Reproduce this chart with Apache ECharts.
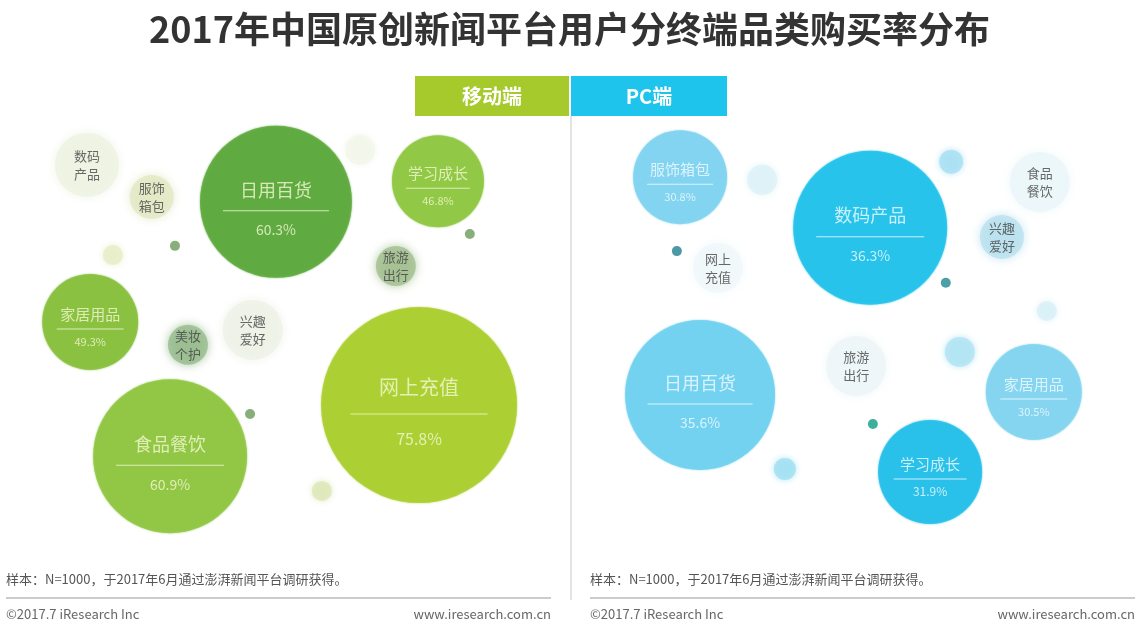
<!DOCTYPE html>
<html>
<head>
<meta charset="utf-8">
<script src="https://cdn.jsdelivr.net/npm/echarts@6/dist/echarts.min.js"></script>
<style>
html, body { margin: 0; padding: 0; background: #fff; }
#main { width: 1139px; height: 628px; }
</style>
</head>
<body>
<div id="main"></div>
<script>
// 数据：购买率（%），null 表示原图只给了名称
const mobileNames = ['网上充值', '食品餐饮', '日用百货', '家居用品', '学习成长', '数码产品', '服饰箱包', '兴趣爱好', '旅游出行', '美妆个护'];
const mobileRates = [75.8, 60.9, 60.3, 49.3, 46.8, null, null, null, null, null];
const pcNames = ['数码产品', '日用百货', '学习成长', '服饰箱包', '家居用品', '食品餐饮', '兴趣爱好', '旅游出行', '网上充值'];
const pcRates = [36.3, 35.6, 31.9, 30.8, 30.5, null, null, null, null];

// 布局：[x, y, 半径]，x/y 为 0-100 的坐标
const mobileLayout = [
    [73.9, 35.2, 98], [27.8, 23.6, 77], [47.4, 81.4, 76], [13.0, 54.1, 48], [77.4, 86.1, 46],
    [12.4, 89.8, 32], [24.4, 82.5, 22], [43.1, 52.3, 30], [69.6, 66.8, 20], [31.1, 48.9, 20]
];
const mobileColors = ['#a9cd2a', '#8dc43e', '#5aa83a', '#86be3a', '#8cc63f',
    '#eef2e2', '#e2e8c4', '#eef1e6', '#a2bf90', '#97bc8d'];
const pcLayout = [
    [51.7, 75.5, 77], [20.2, 37.5, 75], [62.8, 20.0, 52], [16.5, 87.0, 47], [82.0, 38.2, 48],
    [83.1, 85.9, 30], [76.1, 73.4, 22], [49.1, 44.1, 30], [23.5, 66.4, 25]
];
const pcColors = ['#1ec0ea', '#6dd0ef', '#21bde9', '#7dd2ef', '#7fd3ef',
    '#ebf6fa', '#b9e1ef', '#ecf5f8', '#f0f7fa'];

// 装饰小圆点 [x, y, 半径, 颜色]
const mobileDots = [
    [17.2, 69.3, 10, '#e6edc8'], [28.7, 71.4, 5, '#6a9a5a'], [83.3, 74.1, 5, '#6a9a5a'],
    [42.6, 33.2, 5, '#6a9a5a'], [55.9, 15.7, 10, '#dde7b8'], [63.0, 93.2, 15, '#f3f6ea']
];
const pcDots = [
    [31.7, 86.4, 15, '#dcf1f8'], [15.9, 70.2, 5, '#1f7f8f'], [66.7, 90.5, 12, '#a7e0f3'],
    [65.7, 63.0, 5, '#1f8790'], [84.4, 56.6, 10, '#d8f0f8'], [68.3, 47.3, 15, '#b0e4f4'],
    [52.2, 30.9, 5, '#0e9a84'], [35.9, 20.7, 11, '#a0e0f3']
];

const FONT = '"Noto Sans CJK SC", "Noto Sans", sans-serif';

function buildItems(names, rates, layout, colors, textColor) {
    return names.map(function (name, i) {
        var x = layout[i][0], y = layout[i][1], r = layout[i][2];
        var rate = rates[i];
        var label;
        if (rate != null) {
            var g = Math.max(14, r * 0.27);
            label = {
                show: true,
                position: 'inside',
                offset: [0, r < 60 ? 5 : 7],
                formatter: '{n|' + name + '}\n{l|}\n{v|' + rate + '%}',
                rich: {
                    n: { fontSize: Math.round(10 + r * 0.1), color: textColor, lineHeight: 2 * g, fontFamily: FONT },
                    l: { width: Math.round(r * 1.4), height: 1, lineHeight: 1, backgroundColor: textColor },
                    v: { fontSize: Math.round(7 + r * 0.09), color: textColor, lineHeight: 2 * g - 4, fontFamily: FONT }
                }
            };
        } else {
            label = {
                show: true,
                position: 'inside',
                formatter: name.slice(0, 2) + '\n' + name.slice(2),
                fontSize: 13,
                lineHeight: 18,
                color: '#444',
                fontFamily: FONT
            };
        }
        return {
            name: name,
            value: [x, y, rate],
            symbolSize: r * 2,
            itemStyle: { color: colors[i], shadowBlur: rate != null ? 2 : 10, shadowColor: colors[i] },
            label: label
        };
    });
}

function buildDots(dots) {
    return dots.map(function (d) {
        return {
            value: [d[0], d[1]],
            symbolSize: d[2] * 2,
            itemStyle: { color: d[3], shadowBlur: d[2] > 6 ? 6 : 0, shadowColor: d[3] }
        };
    });
}

var chart = echarts.init(document.getElementById('main'));
chart.setOption({
    animation: false,
    backgroundColor: '#fff',
    title: {
        text: '2017年中国原创新闻平台用户分终端品类购买率分布',
        left: 'center',
        top: 6,
        textStyle: { fontSize: 36, fontWeight: 'bold', color: '#333', fontFamily: FONT }
    },
    grid: [
        { left: 20, top: 120, width: 540, height: 440 },
        { left: 591, top: 120, width: 540, height: 440 }
    ],
    xAxis: [
        { gridIndex: 0, type: 'value', min: 0, max: 100, show: false },
        { gridIndex: 1, type: 'value', min: 0, max: 100, show: false }
    ],
    yAxis: [
        { gridIndex: 0, type: 'value', min: 0, max: 100, show: false },
        { gridIndex: 1, type: 'value', min: 0, max: 100, show: false }
    ],
    series: [
        { type: 'scatter', xAxisIndex: 0, yAxisIndex: 0, silent: true, data: buildDots(mobileDots) },
        { type: 'scatter', xAxisIndex: 1, yAxisIndex: 1, silent: true, data: buildDots(pcDots) },
        { type: 'scatter', xAxisIndex: 0, yAxisIndex: 0, data: buildItems(mobileNames, mobileRates, mobileLayout, mobileColors, '#f2f8d2') },
        { type: 'scatter', xAxisIndex: 1, yAxisIndex: 1, data: buildItems(pcNames, pcRates, pcLayout, pcColors, '#f2fbff') }
    ],
    graphic: [
        { type: 'rect', shape: { x: 415, y: 76, width: 154, height: 40 }, style: { fill: '#a6c92c' } },
        { type: 'rect', shape: { x: 571, y: 76, width: 156, height: 40 }, style: { fill: '#1fc4ec' } },
        { type: 'text', x: 492, y: 96, style: { text: '移动端', fill: '#fff', font: 'bold 20px ' + FONT, align: 'center', verticalAlign: 'middle' } },
        { type: 'text', x: 649, y: 96, style: { text: 'PC端', fill: '#fff', font: 'bold 20px ' + FONT, align: 'center', verticalAlign: 'middle' } },
        { type: 'line', shape: { x1: 571, y1: 116, x2: 571, y2: 600 }, style: { stroke: '#c8c8c8', lineWidth: 1 } },
        { type: 'text', x: 6, y: 579, style: { text: '样本：N=1000，于2017年6月通过澎湃新闻平台调研获得。', fill: '#555', font: '13px ' + FONT, verticalAlign: 'middle' } },
        { type: 'text', x: 590, y: 579, style: { text: '样本：N=1000，于2017年6月通过澎湃新闻平台调研获得。', fill: '#555', font: '13px ' + FONT, verticalAlign: 'middle' } },
        { type: 'line', shape: { x1: 6, y1: 598, x2: 551, y2: 598 }, style: { stroke: '#999', lineWidth: 1 } },
        { type: 'line', shape: { x1: 590, y1: 598, x2: 1135, y2: 598 }, style: { stroke: '#999', lineWidth: 1 } },
        { type: 'text', x: 6, y: 614, style: { text: '©2017.7 iResearch Inc', fill: '#666', font: '13px ' + FONT, verticalAlign: 'middle' } },
        { type: 'text', x: 551, y: 614, style: { text: 'www.iresearch.com.cn', fill: '#666', font: '13px ' + FONT, align: 'right', verticalAlign: 'middle' } },
        { type: 'text', x: 590, y: 614, style: { text: '©2017.7 iResearch Inc', fill: '#666', font: '13px ' + FONT, verticalAlign: 'middle' } },
        { type: 'text', x: 1135, y: 614, style: { text: 'www.iresearch.com.cn', fill: '#666', font: '13px ' + FONT, align: 'right', verticalAlign: 'middle' } }
    ]
});
</script>
</body>
</html>
